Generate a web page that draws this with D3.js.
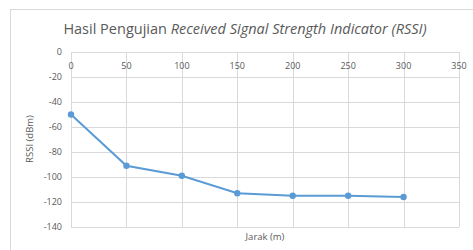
<!DOCTYPE html>
<html>
<head>
<meta charset="utf-8">
<script src="https://cdn.jsdelivr.net/npm/d3@7"></script>
<style>
  body { margin: 0; background: #fff; }
  text { font-family: "Open Sans", "Noto Sans", sans-serif; fill: #595959; }
</style>
</head>
<body>
<div id="chart"></div>
<script>
  // data
  var jarak = [0, 50, 100, 150, 200, 250, 300];
  var rssi = [-50, -91, -99, -113, -115, -115, -116];
  var xTicks = [0, 50, 100, 150, 200, 250, 300, 350];
  var yTicks = [0, -20, -40, -60, -80, -100, -120, -140];

  var width = 473, height = 250;
  var plotLeft = 71, plotRight = 459, plotTop = 52, plotBottom = 227;

  var svg = d3.select('#chart').append('svg').attr('width', width).attr('height', height);

  // chart area border
  svg.append('rect')
     .attr('x', 10.5).attr('y', 9.5)
     .attr('width', 480).attr('height', 260)
     .attr('fill', 'none').attr('stroke', '#d9d9d9');

  var x = d3.scaleLinear().domain([0, 350]).range([plotLeft, plotRight]);
  var y = d3.scaleLinear().domain([0, -140]).range([plotTop, plotBottom]);

  // gridlines
  svg.append('g').selectAll('line').data(xTicks).enter().append('line')
     .attr('x1', function (d) { return Math.round(x(d)) + 0.5; })
     .attr('x2', function (d) { return Math.round(x(d)) + 0.5; })
     .attr('y1', plotTop).attr('y2', plotBottom)
     .attr('stroke', '#d9d9d9').attr('stroke-width', 1);

  svg.append('g').selectAll('line').data(yTicks).enter().append('line')
     .attr('y1', function (d) { return Math.round(y(d)) + 0.5; })
     .attr('y2', function (d) { return Math.round(y(d)) + 0.5; })
     .attr('x1', plotLeft).attr('x2', plotRight)
     .attr('stroke', '#d9d9d9').attr('stroke-width', 1);

  // x tick labels sit under the zero line
  svg.append('g').selectAll('text').data(xTicks).enter().append('text')
     .attr('x', function (d) { return x(d); })
     .attr('y', plotTop + 17)
     .attr('text-anchor', 'middle')
     .attr('font-size', 9)
     .text(function (d) { return d; });

  svg.append('g').selectAll('text').data(yTicks).enter().append('text')
     .attr('x', plotLeft - 9)
     .attr('y', function (d) { return y(d) + 3; })
     .attr('text-anchor', 'end')
     .attr('font-size', 9)
     .text(function (d) { return d; });

  // title
  var title = svg.append('text')
     .attr('x', 245).attr('y', 34)
     .attr('text-anchor', 'middle')
     .attr('font-size', 14.5);
  title.append('tspan').text('Hasil Pengujian ');
  title.append('tspan').attr('font-style', 'italic').text('Received Signal Strength Indicator (RSSI)');

  // axis titles
  svg.append('text')
     .attr('transform', 'translate(33,' + 139 + ') rotate(-90)')
     .attr('text-anchor', 'middle')
     .attr('font-size', 9.5)
     .text('RSSI (dBm)');

  svg.append('text')
     .attr('x', 265).attr('y', 240)
     .attr('text-anchor', 'middle')
     .attr('font-size', 9.5)
     .text('Jarak (m)');

  // series
  var pts = jarak.map(function (d, i) { return [d, rssi[i]]; });
  var line = d3.line()
     .x(function (d) { return x(d[0]); })
     .y(function (d) { return y(d[1]); });

  svg.append('path').datum(pts)
     .attr('d', line)
     .attr('fill', 'none')
     .attr('stroke', '#5b9bd5')
     .attr('stroke-width', 2);

  svg.append('g').selectAll('circle').data(pts).enter().append('circle')
     .attr('cx', function (d) { return x(d[0]); })
     .attr('cy', function (d) { return y(d[1]); })
     .attr('r', 3.2)
     .attr('fill', '#5b9bd5');
</script>
</body>
</html>
